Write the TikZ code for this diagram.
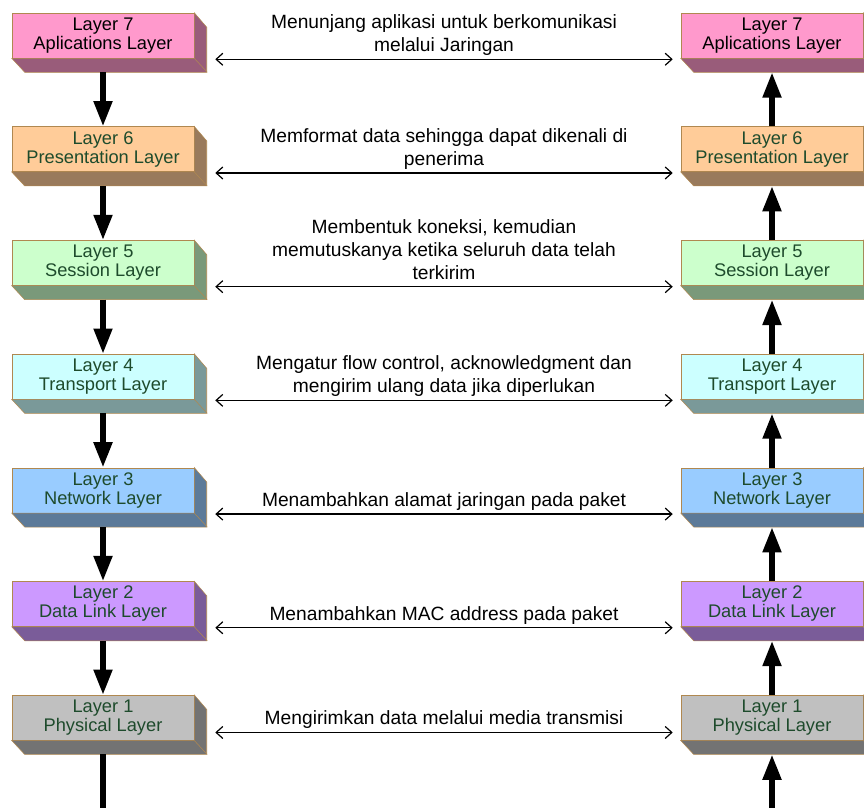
\documentclass[tikz,border=0pt]{standalone}
\usepackage{fontspec}
\setmainfont{Liberation Sans}
\usetikzlibrary{arrows.meta}

\definecolor{appcol}{HTML}{FF99CC}
\definecolor{prescol}{HTML}{FFCC99}
\definecolor{sesscol}{HTML}{CCFFCC}
\definecolor{transcol}{HTML}{CCFFFF}
\definecolor{netcol}{HTML}{99CCFF}
\definecolor{linkcol}{HTML}{CC99FF}
\definecolor{physcol}{HTML}{C0C0C0}
\definecolor{boxedge}{RGB}{176,136,80}
\definecolor{laytext}{HTML}{1E4B2C}

\begin{document}
\begin{tikzpicture}[x=0.75pt, y=-0.75pt,
  layer/.style={draw=boxedge, fill=#1, text=laytext, minimum width=136.5pt, minimum height=33.75pt,
    inner sep=0pt, align=center, font=\fontsize{13.7}{14.25}\selectfont},
  flow/.style={line width=4.2pt, -{Triangle[width=13.3pt, length=19pt]}},
  duplex/.style={line width=0.9pt, {Straight Barb[length=5pt, width=9pt]}-{Straight Barb[length=5pt, width=9pt]}},
  note/.style={above, inner sep=0pt, align=center, font=\fontsize{14.4}{17.25}\selectfont,
    execute at end node=\strut}]
  \useasboundingbox (0,0) rectangle (864,807);
  \clip (0,0) rectangle (864,807);

  % sender stack
  \node[layer=appcol, text=black] (l7) at (103,35.5) {Layer 7\\Aplications Layer};
  \node[layer=prescol] (l6) at (103,149.2) {Layer 6\\Presentation Layer};
  \node[layer=sesscol] (l5) at (103,262.9) {Layer 5\\Session Layer};
  \node[layer=transcol] (l4) at (103,376.6) {Layer 4\\Transport Layer};
  \node[layer=netcol] (l3) at (103,490.3) {Layer 3\\Network Layer};
  \node[layer=linkcol] (l2) at (103,604) {Layer 2\\Data Link Layer};
  \node[layer=physcol] (l1) at (103,717.7) {Layer 1\\Physical Layer};

  % receiver stack
  \node[layer=appcol, text=black] (r7) at (772,35.5) {Layer 7\\Aplications Layer};
  \node[layer=prescol] (r6) at (772,149.2) {Layer 6\\Presentation Layer};
  \node[layer=sesscol] (r5) at (772,262.9) {Layer 5\\Session Layer};
  \node[layer=transcol] (r4) at (772,376.6) {Layer 4\\Transport Layer};
  \node[layer=netcol] (r3) at (772,490.3) {Layer 3\\Network Layer};
  \node[layer=linkcol] (r2) at (772,604) {Layer 2\\Data Link Layer};
  \node[layer=physcol] (r1) at (772,717.7) {Layer 1\\Physical Layer};

  % 3d depth of the boxes
  \foreach \n/\c in {l7/appcol, l6/prescol, l5/sesscol, l4/transcol, l3/netcol, l2/linkcol, l1/physcol,
                     r7/appcol, r6/prescol, r5/sesscol, r4/transcol, r3/netcol, r2/linkcol, r1/physcol} {
    \filldraw[draw=boxedge, fill=\c!60!black] (\n.south west) -- ++(13,14) -- ++(182,0) -- ++(0,-45)
      -- (\n.north east) -- (\n.south east) -- cycle;
    \draw[boxedge] (\n.south east) -- ++(13,14);
  }

  \coordinate (lend) at (103,812);
  \coordinate (rstart) at (772,812);

  \draw[flow] ([shift={(0,14)}]l7.south) -- (l6.north);
  \draw[flow] ([shift={(0,14)}]l6.south) -- (l5.north);
  \draw[flow] ([shift={(0,14)}]l5.south) -- (l4.north);
  \draw[flow] ([shift={(0,14)}]l4.south) -- (l3.north);
  \draw[flow] ([shift={(0,14)}]l3.south) -- (l2.north);
  \draw[flow] ([shift={(0,14)}]l2.south) -- (l1.north);
  \draw[line width=4.2pt] ([shift={(0,14)}]l1.south) -- (lend);

  \draw[flow] (rstart) -- ([shift={(0,14)}]r1.south);
  \draw[flow] (r1.north) -- ([shift={(0,14)}]r2.south);
  \draw[flow] (r2.north) -- ([shift={(0,14)}]r3.south);
  \draw[flow] (r3.north) -- ([shift={(0,14)}]r4.south);
  \draw[flow] (r4.north) -- ([shift={(0,14)}]r5.south);
  \draw[flow] (r5.north) -- ([shift={(0,14)}]r6.south);
  \draw[flow] (r6.north) -- ([shift={(0,14)}]r7.south);

  \draw[duplex] ([shift={(21,1)}]l7.south east) -- node[note] (t7)
    {Menunjang aplikasi untuk berkomunikasi\\melalui Jaringan} ([shift={(-8,1)}]r7.south west);
  \draw[duplex] ([shift={(21,1)}]l6.south east) -- node[note] (t6)
    {Memformat data sehingga dapat dikenali di\\penerima} ([shift={(-8,1)}]r6.south west);
  \draw[duplex] ([shift={(21,1)}]l5.south east) -- node[note] (t5)
    {Membentuk koneksi, kemudian\\memutuskanya ketika seluruh data telah\\terkirim} ([shift={(-8,1)}]r5.south west);
  \draw[duplex] ([shift={(21,1)}]l4.south east) -- node[note] (t4)
    {Mengatur flow control, acknowledgment dan\\mengirim ulang data jika diperlukan} ([shift={(-8,1)}]r4.south west);
  \draw[duplex] ([shift={(21,1)}]l3.south east) -- node[note] (t3)
    {Menambahkan alamat jaringan pada paket} ([shift={(-8,1)}]r3.south west);
  \draw[duplex] ([shift={(21,1)}]l2.south east) -- node[note] (t2)
    {Menambahkan MAC address pada paket} ([shift={(-8,1)}]r2.south west);
  \draw[duplex] ([shift={(21,-8)}]l1.south east) -- node[note] (t1)
    {Mengirimkan data melalui media transmisi} ([shift={(-8,-8)}]r1.south west);
\end{tikzpicture}
\end{document}
